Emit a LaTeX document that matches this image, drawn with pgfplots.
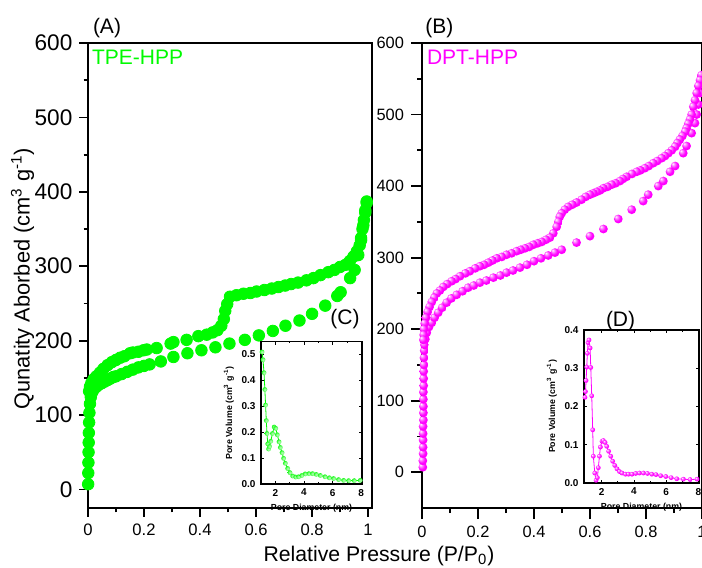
\documentclass[border=0pt]{standalone}
\usepackage{pgfplots}
\pgfplotsset{compat=1.18}
\usepackage{fontspec}
\setmainfont{Liberation Sans}

\definecolor{tpe}{RGB}{0,250,0}
\definecolor{dpt}{RGB}{255,0,255}

% shaded sphere marks (Origin style)
\pgfdeclareradialshading{dptball}{\pgfpoint{-14bp}{14bp}}{color(0bp)=(white); color(8bp)=(dpt!45!white); color(20bp)=(dpt); color(50bp)=(dpt)}
\pgfdeclareradialshading{tpeball}{\pgfpoint{0bp}{0bp}}{color(0bp)=(tpe!30!white); color(18bp)=(tpe!55!white); color(28bp)=(tpe); color(50bp)=(tpe)}
\pgfdeclareplotmark{dptball}{%
  \pgfpathcircle{\pgfpointorigin}{\pgfplotmarksize}%
  \pgfshadepath{dptball}{0}%
  \pgfusepath{discard}}
\pgfdeclareplotmark{tpeball}{%
  \pgfpathcircle{\pgfpointorigin}{\pgfplotmarksize}%
  \pgfshadepath{tpeball}{0}%
  \pgfusepath{discard}}

\pgfplotsset{
  mainax/.style={scale only axis, anchor=south west, clip=false,
    axis line style={line width=1pt},
    tick align=outside, xtick pos=left, ytick pos=left,
    every tick/.style={black, line width=0.9pt},
    minor x tick num=1, minor y tick num=1,
    xtick={0,0.2,0.4,0.6,0.8,1}, ytick={0,100,...,600},
    /pgf/number format/assume math mode=true},
  insetax/.style={scale only axis, anchor=south west, clip=false,
    axis background/.style={fill=white},
    axis line style={line width=0.6pt},
    tick align=inside,
    every tick/.style={black, line width=0.4pt},
    major tick length=1.6pt, minor tick length=0.9pt,
    minor x tick num=1,
    xtick={2,4,6,8}, ymin=0,
    tick label style={font=\fontsize{5}{6}\selectfont\bfseries},
    label style={font=\fontsize{4.4}{5}\selectfont\bfseries},
    xticklabel style={yshift=1pt},
    yticklabel style={xshift=0.8pt, /pgf/number format/.cd, fixed, fixed zerofill, precision=1},
    xlabel={Pore Diameter (nm)},
    ylabel={Pore Volume (cm\textsuperscript{3} g\textsuperscript{-1})},
    xlabel style={at={(axis description cs:0.5,0)}, anchor=north, yshift=-6.3pt},
    ylabel style={yshift=-3pt},
    /pgf/number format/assume math mode=true},
}

\begin{document}
\begin{tikzpicture}
% ---------------- panel A ----------------
\begin{axis}[mainax, at={(44pt,-254pt)}, width=142pt, height=232.5pt,
  xmin=0, xmax=1.014, ymin=-25, ymax=600,
  major tick length=4.3pt, minor tick length=2.2pt,
  yticklabel style={font=\fontsize{11.3}{13}\selectfont},
  xticklabel style={font=\fontsize{8.3}{10}\selectfont}]
\addplot[only marks, mark=*, mark size=2.9pt, mark options={draw=tpe, fill=tpe}] coordinates {
 (0.0005,7) (0.001,22) (0.0015,36) (0.002,50) (0.0025,63) (0.003,76) (0.004,90)
 (0.005,103) (0.007,115) (0.01,124) (0.014,130) (0.02,134) (0.03,138) (0.04,141)
 (0.05,143) (0.06,145) (0.07,147) (0.08,149) (0.09,151) (0.10,152) (0.12,155)
 (0.14,158) (0.16,161) (0.18,164) (0.20,166) (0.22,168) (0.26,172) (0.305,178)
 (0.355,183) (0.405,187) (0.455,191) (0.505,196) (0.56,201) (0.61,207) (0.66,213)
 (0.705,220) (0.755,227) (0.80,236) (0.847,247) (0.89,260) (0.902,265) (0.936,284)
 (0.952,295) (0.965,315) (0.975,335) (0.983,355) (0.99,372) (0.995,385)
};
\addplot[only marks, mark=*, mark size=2.9pt, mark options={draw=tpe, fill=tpe}] coordinates {
 (0.995,387) (0.99,375) (0.985,362) (0.98,350) (0.975,338) (0.97,328) (0.96,320)
 (0.948,313) (0.935,307) (0.92,302) (0.90,299) (0.88,295) (0.858,292) (0.83,288)
 (0.805,284) (0.78,281) (0.75,278) (0.725,276) (0.704,274) (0.68,272) (0.656,270)
 (0.63,268) (0.602,266) (0.58,264) (0.555,263) (0.53,261) (0.507,259) (0.497,249)
 (0.49,240) (0.485,229) (0.476,220) (0.462,214) (0.445,211) (0.424,208) (0.394,206)
 (0.352,201) (0.305,198) (0.295,196) (0.245,190) (0.21,188) (0.198,187) (0.18,185)
 (0.16,184) (0.15,183) (0.13,179) (0.115,177) (0.10,174) (0.085,171) (0.07,167)
 (0.055,162) (0.043,157) (0.03,152) (0.02,148) (0.012,143) (0.007,138) (0.004,132)
};
\end{axis}
% ---------------- inset C ----------------
\begin{axis}[insetax, at={(130.5pt,-242pt)}, width=50.5pt, height=71.2pt,
  xmin=1, xmax=8.05, ymax=0.55, ytick={0,0.1,...,0.5}]
\addplot[tpe, line width=0.4pt, mark=tpeball, mark size=1.2pt] coordinates {
 (1.07,0.51) (1.14,0.48) (1.21,0.43) (1.27,0.365) (1.32,0.305) (1.37,0.245)
 (1.42,0.195) (1.47,0.155) (1.53,0.135) (1.60,0.145) (1.68,0.165) (1.80,0.195)
 (1.92,0.22) (2.03,0.215) (2.14,0.19) (2.26,0.163) (2.35,0.141) (2.47,0.121)
 (2.58,0.099) (2.70,0.080) (2.86,0.060) (3.02,0.044) (3.21,0.031) (3.42,0.027)
 (3.63,0.028) (3.86,0.033) (4.09,0.039) (4.35,0.040) (4.60,0.040) (4.86,0.037)
 (5.14,0.033) (5.47,0.028) (5.77,0.024) (6.07,0.021) (6.42,0.017) (6.77,0.014)
 (7.12,0.013) (7.51,0.013) (7.93,0.014)
};
\end{axis}
% ---------------- panel B ----------------
\begin{axis}[mainax, at={(211pt,-254pt)}, width=140pt, height=232.5pt,
  xmin=0, xmax=1, ymin=-50, ymax=600,
  major tick length=5.5pt, minor tick length=2.5pt,
  tick label style={font=\fontsize{8.2}{10}\selectfont}]
\addplot[only marks, mark=dptball, mark size=2.2pt] coordinates {
 (0.003,7) (0.003,16) (0.004,26) (0.004,35) (0.004,45) (0.004,54) (0.004,64)
 (0.005,73) (0.005,83) (0.005,92) (0.005,102) (0.005,112) (0.006,121) (0.006,131)
 (0.006,141) (0.007,150) (0.007,160) (0.008,170) (0.009,178) (0.012,186)
 (0.017,195) (0.025,203) (0.035,209) (0.045,216) (0.058,223) (0.072,230)
 (0.088,237) (0.105,243) (0.124,248) (0.145,253) (0.165,258) (0.185,261)
 (0.207,265) (0.23,268) (0.255,272) (0.28,275) (0.302,279) (0.325,282) (0.35,286)
 (0.375,290) (0.40,295) (0.425,299) (0.451,303) (0.475,307) (0.499,311)
 (0.552,321) (0.60,330) (0.648,340) (0.701,354) (0.749,367) (0.79,379)
 (0.808,388) (0.844,400) (0.862,407) (0.886,420) (0.904,428) (0.933,446)
 (0.945,456) (0.963,474) (0.975,488) (0.981,500) (0.987,514) (0.993,530)
 (0.996,545) (0.998,553)
};
\addplot[only marks, mark=dptball, mark size=2.2pt] coordinates {
 (0.998,555) (0.993,548) (0.987,540) (0.981,530) (0.975,520) (0.969,511)
 (0.963,500) (0.957,493) (0.951,487) (0.945,481) (0.94,476) (0.93,470)
 (0.921,465) (0.912,460) (0.904,455) (0.892,450) (0.88,446) (0.868,442)
 (0.856,439) (0.84,435) (0.826,432) (0.81,428) (0.796,425) (0.78,422) (0.767,420)
 (0.75,417) (0.731,413) (0.718,410) (0.707,407) (0.692,404) (0.678,402)
 (0.663,399) (0.648,397) (0.636,394) (0.624,392) (0.612,390) (0.60,388)
 (0.585,385) (0.57,381) (0.552,377) (0.537,374) (0.522,371) (0.51,367)
 (0.499,362) (0.492,357) (0.487,350) (0.481,343) (0.469,334) (0.457,328)
 (0.443,325) (0.428,322) (0.413,320) (0.398,318) (0.383,315) (0.368,313)
 (0.353,311) (0.338,309) (0.32,306) (0.302,304) (0.285,301) (0.267,299)
 (0.252,296) (0.237,293) (0.222,290) (0.207,288) (0.19,285) (0.171,281)
 (0.155,278) (0.136,274) (0.12,270) (0.106,267) (0.09,263) (0.076,259)
 (0.064,254) (0.053,250) (0.044,244) (0.035,238) (0.027,231) (0.02,224)
 (0.014,216) (0.01,208) (0.007,200) (0.006,192) (0.005,185)
};
\end{axis}
% ---------------- inset D ----------------
\begin{axis}[insetax, at={(292pt,-241.5pt)}, width=57.5pt, height=76.5pt,
  xmin=0.9, xmax=8.04, ymax=0.4, ytick={0,0.1,...,0.4}]
\addplot[dpt, line width=0.4pt, mark=dptball, mark size=1.2pt] coordinates {
 (0.96,0.224) (0.99,0.239) (1.03,0.268) (1.07,0.303) (1.11,0.339) (1.15,0.367)
 (1.21,0.374) (1.28,0.353) (1.32,0.302) (1.38,0.228) (1.44,0.139) (1.48,0.070)
 (1.57,0.026) (1.65,0.007) (1.73,0.014) (1.79,0.040) (1.86,0.070) (1.92,0.094)
 (2.02,0.109) (2.10,0.111) (2.21,0.106) (2.31,0.096) (2.43,0.083) (2.56,0.070)
 (2.68,0.057) (2.81,0.046) (2.95,0.037) (3.10,0.030) (3.26,0.026) (3.47,0.023)
 (3.66,0.023) (3.88,0.023) (4.11,0.025) (4.34,0.026) (4.59,0.026) (4.84,0.025)
 (5.11,0.023) (5.37,0.022) (5.66,0.019) (5.98,0.017) (6.31,0.014) (6.66,0.011)
 (7.07,0.010) (7.49,0.009) (7.92,0.010)
};
\end{axis}
% ---------------- texts ----------------
\node[anchor=base west, inner sep=0pt, font=\fontsize{10.5}{12}\selectfont] at (46.3pt,-16.5pt) {(A)};
\node[anchor=base west, inner sep=0pt, font=\fontsize{10.5}{12}\selectfont] at (212.5pt,-16.5pt) {(B)};
\node[anchor=base west, inner sep=0pt, text=tpe, font=\fontsize{10.5}{12}\selectfont] at (45.8pt,-32.2pt) {TPE-HPP};
\node[anchor=base west, inner sep=0pt, text=dpt, font=\fontsize{10.5}{12}\selectfont] at (213.3pt,-32.2pt) {DPT-HPP};
\node[anchor=base west, inner sep=0pt, font=\fontsize{10.5}{12}\selectfont] at (165pt,-162pt) {(C)};
\node[anchor=base west, inner sep=0pt, font=\fontsize{10.5}{12}\selectfont] at (302.8pt,-163pt) {(D)};
\node[anchor=base, inner sep=0pt, font=\fontsize{10.6}{12}\selectfont] at (189.5pt,-280.8pt) {Relative Pressure (P/P\textsubscript{0})};
\node[anchor=base, inner sep=0pt, rotate=90, font=\fontsize{10.9}{12}\selectfont] at (14.75pt,-139.3pt) {Qunatity Aborbed (cm\textsuperscript{3} g\textsuperscript{-1})};
\pgfresetboundingbox
\path (0pt,0pt) rectangle (351pt,-284pt);
\end{tikzpicture}
\end{document}
